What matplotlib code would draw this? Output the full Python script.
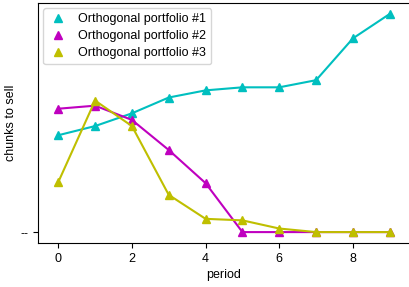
import numpy as np
import matplotlib
matplotlib.use("Agg")
import matplotlib.pyplot as plt

plt.rcParams['font.family'] = ['Liberation Sans', 'DejaVu Sans']

periods = np.arange(10)
# chunks to sell per period
portfolio_1 = [95, 104, 116.5, 132, 139, 142, 142, 149, 190, 214]
portfolio_2 = [121, 124, 110, 80.5, 48, 0, 0, 0, 0, 0]
portfolio_3 = [49, 129, 104, 36.5, 13, 11.5, 3.5, 0, 0, 0]
labels = ['Orthogonal portfolio #1', 'Orthogonal portfolio #2', 'Orthogonal portfolio #3']
colors = ['c', 'm', 'y']

fig = plt.figure(figsize=(4.09, 2.87), dpi=100)
ax = fig.add_axes([38 / 409, 44 / 287, 372 / 409, 240 / 287])

for vals, lab, col in zip([portfolio_1, portfolio_2, portfolio_3], labels, colors):
    ax.plot(periods, vals, color=col, lw=1.5)
    ax.plot(periods, vals, '^', color=col, ms=6, label=lab, linestyle='none')

ax.set_xlim(-0.55, 9.55)
ax.set_xticks([0, 2, 4, 6, 8])
ax.set_yticks([0])
ax.set_yticklabels(['--'], fontfamily='DejaVu Sans', fontsize=8)
ax.set_xlabel('period', fontsize=9, labelpad=3)
ax.set_ylabel('chunks to sell', fontsize=9)
ax.yaxis.set_label_coords(-21 / 372, 0.5)
ax.tick_params(axis='x', labelsize=9)
ax.legend(loc='upper left', fontsize=9, handlelength=1.6, borderaxespad=0.4,
          labelspacing=0.4)

fig.savefig('out.png', dpi=100)
